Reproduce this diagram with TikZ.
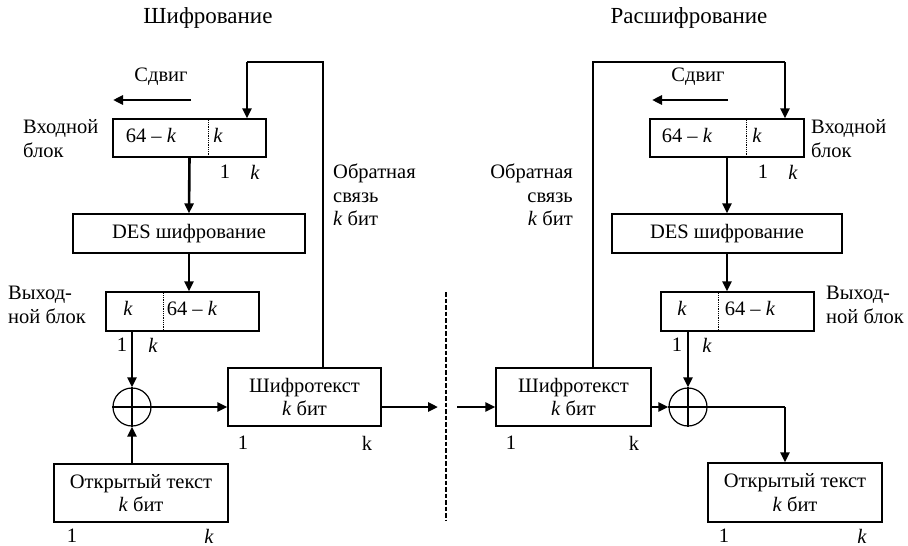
\documentclass[tikz,border=0pt]{standalone}
\usepackage{fontspec}
\setmainfont{Liberation Serif}
\usetikzlibrary{arrows.meta,calc}
\begin{document}
\begin{tikzpicture}[x=1pt,y=-1pt,
  font=\fontsize{20.5}{23.5}\selectfont,
  box/.style 2 args={draw, line width=1.2pt, rectangle, inner sep=0pt,
    minimum width=#1, minimum height=#2, align=center},
  lbl/.style={inner sep=0pt},
  ttl/.style={inner sep=0pt, font=\fontsize{23}{26}\selectfont},
  thin/.style={line width=1.2pt},
  thickarr/.style={line width=2.6pt, -{Triangle[length=10pt,width=9pt]}},
  divider/.style={densely dotted, line width=0.8pt},
  xorc/.style={draw, circle, line width=1.2pt, minimum size=38pt, inner sep=0pt}]
\useasboundingbox (0,0) rectangle (908,546);

% ---------------- titles
\node[ttl] (tL) at (208,18) {Шифрование};
\node[ttl] (tR) at (689,18) {Расшифрование};

% ---------------- left (encryption)
\node[box={153pt}{38pt}] (ibL) at (189.5,138) {};
\node[box={232pt}{39pt}] (desL) at (189,233.5) {DES шифрование};
\node[box={153pt}{39pt}] (obL) at (182.5,311.5) {};
\node[xorc] (xL) at (132,407) {};
\node[box={153pt}{58pt}] (ctL) at (304.5,397) {Шифротекст\\\textit{k} бит};
\node[box={174pt}{58pt}] (ptL) at (141,493) {Открытый текст\\\textit{k} бит};

\draw[divider] (ibL.north -| 208,0) -- (ibL.south -| 208,0);
\draw[divider] (obL.north -| 163,0) -- (obL.south -| 163,0);
\draw[thin] (xL.north) -- (xL.south) (xL.west) -- (xL.east);

\node[lbl] (ibLa) at (151,135) {64 – \textit{k}};
\node[lbl] (ibLb) at (218,135) {\textit{k}};
\node[lbl] (ibL1) at (225,172) {1};
\node[lbl] (ibLk) at (255,172) {\textit{k}};
\node[lbl, anchor=west, align=left] (inL) at (23,138.5) {Входной\\блок};
\node[lbl] (shL) at (161,77) {Сдвиг};
\coordinate (shLs) at (191,100);
\coordinate (shLe) at (113,100);
\draw[thickarr] (shLs) -- (shLe);
\node[lbl, anchor=west, align=left] (fbtL) at (333,195) {Обратная\\связь\\\textit{k} бит};

\node[lbl] (obLa) at (128,308) {\textit{k}};
\node[lbl] (obLb) at (192,308) {64 – \textit{k}};
\node[lbl, anchor=west, align=left] (outL) at (8,305) {Выход-\\ной блок};
\node[lbl] (obL1) at (122,345) {1};
\node[lbl] (obLk) at (153,345) {\textit{k}};
\node[lbl] (ctL1) at (243,443) {1};
\node[lbl] (ctLk) at (367,443) {k};
\node[lbl] (ptL1) at (72,536) {1};
\node[lbl] (ptLk) at (209,536) {\textit{k}};

% left connectors
\coordinate (fbL1) at (323,62);
\coordinate (fbL2) at (247,62);
\draw[thin] (ctL.north -| fbL1) -- (fbL1) -- (fbL2);
\draw[thickarr] (fbL2) -- (ibL.north -| fbL2);
\draw[thickarr] (ibL.south) -- (desL.north);
\draw[thickarr] (desL.south) -- (desL.south |- obL.north);
\draw[thickarr] (obL.south -| xL) -- (xL.north);
\draw[thickarr] (ptL.north -| xL) -- (xL.south);
\draw[thickarr] (xL.east) -- (ctL.west |- xL.east);
\coordinate (outLe) at (438,407);
\draw[thickarr] (ctL.east |- outLe) -- (outLe);

% ---------------- separator
\coordinate (sepT) at (446,292);
\coordinate (sepB) at (446,521);
\draw[line width=2pt, dash pattern=on 4.5pt off 2pt] (sepT) -- (sepB);

% ---------------- right (decryption)
\node[box={154pt}{38pt}] (ibR) at (727,138) {};
\node[box={230pt}{39pt}] (desR) at (727,233.5) {DES шифрование};
\node[box={153pt}{39pt}] (obR) at (737.5,311.5) {};
\node[xorc] (xR) at (688,407) {};
\node[box={155pt}{58pt}] (ctR) at (573.5,397) {Шифротекст\\\textit{k} бит};
\node[box={174pt}{59pt}] (ptR) at (795,492.5) {Открытый текст\\\textit{k} бит};

\draw[divider] (ibR.north -| 746,0) -- (ibR.south -| 746,0);
\draw[divider] (obR.north -| 718,0) -- (obR.south -| 718,0);
\draw[thin] (xR.north) -- (xR.south) (xR.west) -- (xR.east);

\node[lbl] (ibRa) at (687,135) {64 – \textit{k}};
\node[lbl] (ibRb) at (757,135) {\textit{k}};
\node[lbl] (ibR1) at (763,172) {1};
\node[lbl] (ibRk) at (793,172) {\textit{k}};
\node[lbl, anchor=west, align=left] (inR) at (811,138.5) {Входной\\блок};
\node[lbl] (shR) at (698,77) {Сдвиг};
\coordinate (shRs) at (728,100);
\coordinate (shRe) at (652,100);
\draw[thickarr] (shRs) -- (shRe);
\node[lbl, anchor=east, align=right] (fbtR) at (573,195) {Обратная\\связь\\\textit{k} бит};

\node[lbl] (obRa) at (682,308) {\textit{k}};
\node[lbl] (obRb) at (750,308) {64 – \textit{k}};
\node[lbl, anchor=west, align=left] (outR) at (826,305) {Выход-\\ной блок};
\node[lbl] (obR1) at (677,345) {1};
\node[lbl] (obRk) at (707,345) {\textit{k}};
\node[lbl] (ctR1) at (511,443) {1};
\node[lbl] (ctRk) at (634,443) {k};
\node[lbl] (ptR1) at (724,536) {1};
\node[lbl] (ptRk) at (862,536) {\textit{k}};

% right connectors
\coordinate (fbR1) at (593,62);
\coordinate (fbR2) at (785,62);
\draw[thin] (ctR.north -| fbR1) -- (fbR1) -- (fbR2);
\draw[thickarr] (fbR2) -- (ibR.north -| fbR2);
\draw[thickarr] (ibR.south -| desR.north) -- (desR.north);
\draw[thickarr] (desR.south) -- (desR.south |- obR.north);
\draw[thickarr] (obR.south -| xR) -- (xR.north);
\coordinate (inRs) at (457,407);
\draw[thickarr] (inRs) -- (ctR.west |- inRs);
\draw[thickarr] (ctR.east |- xR.west) -- (xR.west);
\coordinate (xRc) at (785,407);
\draw[thin] (xR.east) -- (xRc);
\draw[thickarr] (xRc) -- (ptR.north -| xRc);
\end{tikzpicture}
\end{document}
